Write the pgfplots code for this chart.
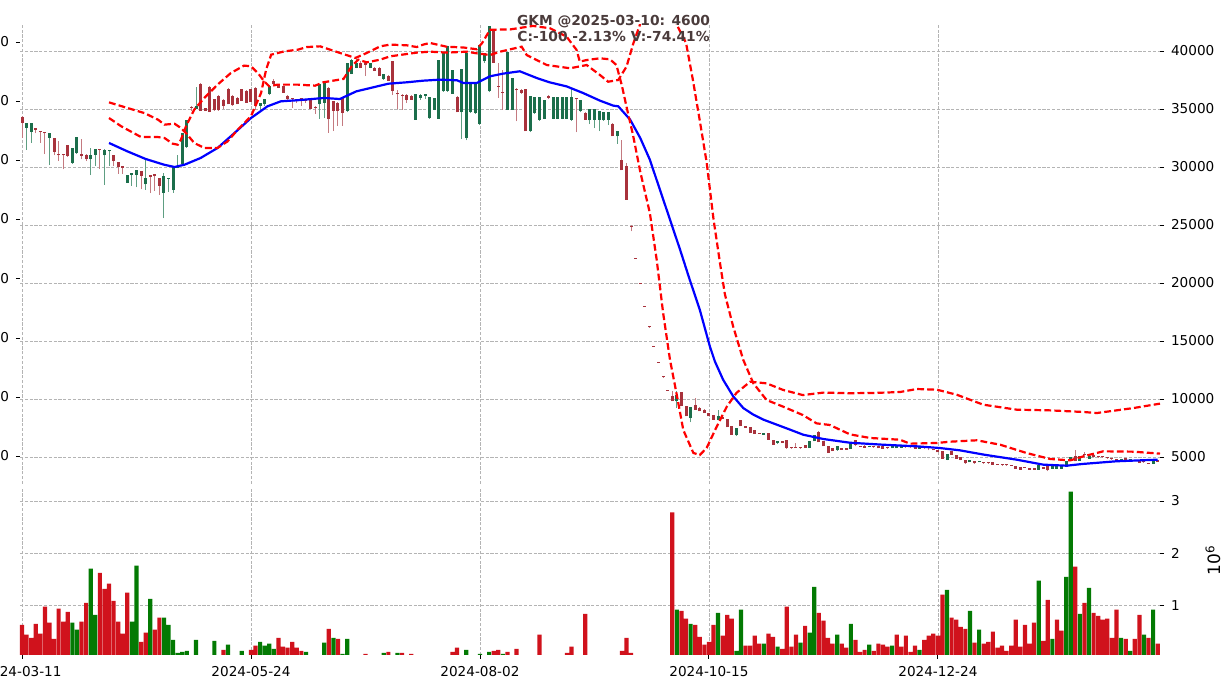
\documentclass[border=0pt]{standalone}
\usepackage{pgfplots}
\pgfplotsset{compat=1.18}
\usepackage{pgfplotstable}
\usepackage{fontspec}
\setmainfont{DejaVu Sans}

\definecolor{upbody}{HTML}{1B6E4B}
\definecolor{upwick}{HTML}{5E9E82}
\definecolor{dnbody}{HTML}{A8323C}
\definecolor{dnwick}{HTML}{C47A80}
\definecolor{volred}{HTML}{D0121C}
\definecolor{volgreen}{HTML}{037A03}
\definecolor{titlec}{HTML}{4A3B3B}
\definecolor{gridc}{HTML}{B4B4B4}

% daily candles: index, open, high, low, close
\pgfplotstableread{
i o h l c
0 34300 34400 32500 33800
1 33400 33800 31500 33800
2 33000 33800 32100 33790
3 33400 33400 32900 33200
4 33100 33100 32100 33000
5 33000 33000 31100 32900
6 32500 32950 30150 32950
7 32500 32500 31000 31300
8 31100 32200 30500 31000
9 31100 31150 29800 31000
10 31900 31900 30900 30950
11 30350 31650 30280 31650
12 31200 32550 31150 32550
13 31100 32450 30650 30950
14 31070 31100 30500 30650
15 30650 31600 29300 31050
16 31050 31560 30100 31560
17 31560 31560 29850 31450
18 31000 31520 28450 31500
19 31350 31500 30100 31500
20 31000 31000 30080 30500
21 30400 30400 29400 30000
22 30050 30060 29400 29950
23 28650 29340 28600 29340
24 29300 29450 28400 29450
25 29350 29780 28250 29780
26 29650 29650 28080 29200
27 28500 30650 28050 29050
28 29250 29260 27750 29180
29 29400 29400 27950 29200
30 29050 29050 27620 28400
31 27760 29500 25600 29200
32 28950 29050 27850 29000
33 28000 30060 27800 30060
34 29950 31060 29900 30060
35 30300 32950 30280 32950
36 31700 34080 31640 34080
37 35200 35250 34820 35100
38 34960 36890 34960 35300
39 37120 37200 34820 34820
40 35050 35100 34800 34820
41 36920 36950 34700 34730
42 35820 35900 34850 34870
43 36110 36200 34850 34870
44 35800 35820 35000 35300
45 36750 36800 35390 35390
46 36110 36200 35300 35310
47 35970 36000 35390 35390
48 36690 36750 35680 35680
49 36540 36600 35540 35540
50 36690 36700 35590 35590
51 36830 36900 34900 35300
52 35250 35540 34900 35540
53 35400 35820 35300 35820
54 36260 37000 36200 36980
55 37410 37550 37000 37120
56 37120 37150 36800 36830
57 36980 37000 36400 36400
58 36110 36200 35800 35820
59 35880 35900 35100 35820
60 35820 35850 35500 35680
61 35880 35900 35300 35820
62 35820 35850 35500 35680
63 35820 35850 35000 35020
64 35200 35250 34600 35100
65 35390 37120 34150 37120
66 35540 37300 34200 37270
67 36830 36900 32940 34100
68 35680 35700 33090 34820
69 35540 35600 33520 34820
70 36030 36050 33560 34650
71 34850 38980 34700 38980
72 38000 39300 37980 39200
73 38560 39300 38500 38990
74 38990 39100 38500 38560
75 38990 39000 37840 38800
76 38560 38990 38500 38990
77 38560 38600 38270 38270
78 38560 38600 37840 37840
79 37550 37980 37500 37980
80 37840 37900 37410 37410
81 39100 39140 36200 36540
82 36320 36610 35000 36260
83 36230 36250 34940 36150
84 36230 36250 35500 35800
85 36150 36200 35800 35810
86 34080 36320 34080 36320
87 35950 36260 35800 36230
88 36150 36300 35900 36260
89 34200 36030 34140 36030
90 34940 35950 34900 35950
91 34140 39250 34140 39250
92 36520 39830 36500 39830
93 36550 40400 36500 40400
94 36320 38390 36300 38390
95 36030 36100 34700 34710
96 34710 38420 32410 38420
97 32500 39830 32300 39830
98 34710 37240 34650 37240
99 34650 37210 34600 37210
100 33730 40550 33650 40550
101 39110 39830 39000 39830
102 36520 42130 36440 42130
103 41840 41900 38970 38970
104 37000 38970 35950 36900
105 36500 38390 34940 36400
106 34940 39890 34900 39890
107 34940 37670 34900 37670
108 36700 36810 33940 36600
109 36670 36700 36300 36380
110 36720 36750 33070 33070
111 33070 36090 33000 36090
112 34650 36030 34600 36030
113 34080 36030 34000 36030
114 34140 35800 34100 35800
115 36150 36200 35900 35950
116 34140 36030 34100 36030
117 34140 36030 34100 36030
118 34140 36030 34100 36030
119 34140 36030 34100 36030
120 34080 36810 34000 36030
121 35950 35950 32990 35850
122 34800 35800 34700 35800
123 34650 34700 34080 34080
124 34020 35000 33700 35000
125 34080 35000 33350 35000
126 34080 34800 33100 34800
127 34080 34700 34000 34700
128 34080 34700 33600 34700
129 33740 33750 32640 32640
130 32640 33070 32000 33070
131 30630 32350 29710 29710
132 30060 30340 27180 27180
133 24900 25030 24450 24850
134 22150 22150 22100 22100
135 19960 19960 19900 19900
136 18000 18000 17950 17950
137 16220 16220 16170 16170
138 14560 14560 14510 14510
139 13180 13180 13130 13130
140 11920 11920 11870 11870
141 10760 10760 10710 10710
142 10280 10660 9800 9800
143 9800 10660 9220 10370
144 10570 10570 9360 9360
145 9420 9420 8500 8500
146 8360 9300 7980 9300
147 9500 10080 9070 9070
148 9220 9300 8930 8930
149 9070 9100 8790 8790
150 8790 8800 8500 8500
151 8640 8650 8210 8210
152 8210 9080 8200 8500
153 8440 8450 8270 8270
154 8270 8300 7550 7550
155 7700 7700 6920 6920
156 6860 7500 6800 7500
157 8150 8150 7640 7640
158 7640 7650 7500 7500
159 7550 7550 7060 7065
160 7350 7360 6980 6980
161 7070 7100 7000 7010
162 6920 7070 6900 7070
163 7065 7070 6490 6490
164 6490 6500 6060 6060
165 6200 6350 6150 6350
166 6350 6360 6200 6200
167 6490 6490 5700 5770
168 5800 5800 5740 5770
169 5900 6200 5770 5770
170 5800 5800 5750 5770
171 6060 6060 5770 5780
172 5770 6350 5770 6350
173 6350 6920 6350 6920
174 7120 7200 6260 6260
175 6350 6350 5920 5920
176 5920 5920 5340 5340
177 5770 5770 5480 5480
178 5570 5920 5550 5920
179 5770 5780 5630 5640
180 5770 5780 5630 5640
181 5690 6210 5690 6206
182 6490 6490 5920 6060
183 5920 5930 5860 5880
184 5980 6000 5770 5780
185 5860 5920 5850 5910
186 5860 5870 5820 5830
187 5920 5930 5740 5750
188 5920 5930 5690 5700
189 5780 5790 5750 5760
190 5750 5920 5740 5910
191 5750 5980 5740 5970
192 5780 5980 5770 5970
193 5840 5850 5810 5820
194 5840 5850 5810 5820
195 5860 5870 5710 5720
196 5720 5840 5710 5830
197 5780 5790 5760 5770
198 5780 5790 5570 5760
199 5720 5730 5570 5580
200 5630 5640 5400 5400
201 5490 5500 4850 4860
202 4770 5290 4700 5290
203 5490 5500 5200 5200
204 5200 5210 4830 4830
205 5000 5010 4710 4720
206 4770 4780 4430 4440
207 4540 4770 4530 4760
208 4660 4680 4430 4440
209 4540 4680 4530 4680
210 4500 4510 4470 4480
211 4500 4510 4470 4480
212 4540 4550 4340 4340
213 4350 4360 4330 4340
214 4320 4330 4300 4310
215 4290 4300 4270 4280
216 4260 4270 4240 4250
217 4250 4260 3970 3970
218 4140 4150 3910 3910
219 4090 4100 4070 4080
220 4050 4060 3900 3910
221 4050 4060 3880 3880
222 3910 4340 3900 4340
223 4140 4150 3970 3970
224 4200 4210 3760 3850
225 3970 4250 3960 4250
226 3970 4250 3960 4250
227 3970 4340 3960 4340
228 4140 4680 4130 4630
229 4630 5000 4620 4990
230 5110 5570 4620 4630
231 4680 5060 4670 5060
232 5200 5400 4900 5190
233 4830 5290 4820 5110
234 5200 5210 5000 5000
235 5000 5010 4990 4995
236 4980 4990 4960 4970
237 4920 4930 4900 4910
238 4860 4870 4850 4850
239 4860 4870 4680 4690
240 4760 4780 4750 4770
241 4910 4920 4700 4710
242 4700 4720 4690 4710
243 4690 4700 4670 4680
244 4630 4640 4480 4480
245 4550 4560 4530 4540
246 4480 4490 4390 4400
247 4400 4720 4390 4700
248 4700 4700 4580 4600
}\candles

% volume in millions, g=1 green bar
\pgfplotstableread{
i v g
0 0.62 0
1 0.43 0
2 0.37 0
3 0.64 0
4 0.45 0
5 0.97 0
6 0.66 0
7 0.35 0
8 0.93 0
9 0.68 0
10 0.87 0
11 0.66 1
12 0.53 1
13 0.68 0
14 1.04 0
15 1.70 1
16 0.81 1
17 1.62 0
18 1.31 0
19 1.41 0
20 1.08 0
21 0.68 0
22 0.45 0
23 1.24 0
24 0.68 1
25 1.76 1
26 0.29 0
27 0.47 0
28 1.12 1
29 0.53 0
30 0.76 0
31 0.76 1
32 0.62 1
33 0.33 1
34 0.08 1
35 0.10 1
36 0.12 1
38 0.33 1
42 0.31 1
44 0.14 0
45 0.24 1
48 0.12 1
50 0.14 0
51 0.22 0
52 0.29 1
53 0.22 1
54 0.26 1
55 0.16 1
56 0.37 0
57 0.20 0
58 0.18 0
59 0.29 0
60 0.18 0
61 0.12 0
62 0.10 1
66 0.28 1
67 0.54 0
68 0.37 1
69 0.35 0
70 0.06 1
71 0.35 1
75 0.06 0
79 0.08 1
80 0.10 0
82 0.08 1
83 0.08 0
85 0.06 0
94 0.10 0
95 0.18 0
97 0.14 1
100 0.06 1
102 0.10 1
103 0.12 0
104 0.14 0
105 0.06 1
106 0.10 0
108 0.16 0
113 0.43 0
119 0.08 0
120 0.20 0
123 0.83 0
131 0.12 0
132 0.37 0
133 0.08 0
142 2.78 0
143 0.91 1
144 0.89 0
145 0.74 0
146 0.64 1
147 0.62 0
148 0.39 0
149 0.24 0
150 0.29 0
151 0.62 0
152 0.85 1
153 0.41 0
154 0.81 0
155 0.74 0
156 0.12 1
157 0.91 1
158 0.22 0
159 0.22 0
160 0.41 0
161 0.26 0
162 0.26 1
163 0.45 0
164 0.39 0
165 0.20 1
166 0.16 0
167 0.97 0
168 0.20 0
169 0.43 0
170 0.28 1
171 0.60 0
172 0.47 1
173 1.35 1
174 0.85 0
175 0.70 0
176 0.37 0
177 0.26 0
178 0.43 1
179 0.26 0
180 0.18 0
181 0.64 1
182 0.33 0
183 0.10 0
184 0.14 0
185 0.24 1
186 0.12 0
187 0.26 0
188 0.24 0
189 0.20 0
190 0.22 1
191 0.43 0
192 0.20 0
193 0.41 0
194 0.10 0
195 0.22 0
196 0.14 1
197 0.33 0
198 0.41 0
199 0.45 0
200 0.41 0
201 1.20 0
202 1.29 1
203 0.76 0
204 0.72 0
205 0.58 0
206 0.54 0
207 0.89 1
208 0.28 0
209 0.53 1
210 0.26 0
211 0.29 0
212 0.49 0
213 0.18 0
214 0.22 0
215 0.12 0
216 0.22 0
217 0.72 0
218 0.20 0
219 0.62 0
220 0.26 0
221 0.66 0
222 1.47 1
223 0.31 0
224 1.10 0
225 0.35 1
226 0.72 0
227 0.51 0
228 1.54 1
229 3.18 1
230 1.74 0
231 0.83 1
232 1.04 0
233 1.33 1
234 0.85 0
235 0.79 0
236 0.72 0
237 0.74 0
238 0.37 0
239 0.91 0
240 0.37 1
241 0.35 0
242 0.12 1
243 0.35 0
244 0.81 0
245 0.43 1
246 0.37 0
247 0.91 1
248 0.26 0
}\vol

\begin{document}
\begin{tikzpicture}
\pgfplotsset{
  every axis/.append style={
    scale only axis, width=570pt, xmin=-0.44, xmax=248.5,
    axis line style={draw=none},
    tick label style={font=\fontsize{6.8}{8}\selectfont},
    scaled ticks=false,
    /pgf/number format/assume math mode=true,
    /pgf/number format/1000 sep={},
    major tick length=2pt, tick align=outside,
    tick style={black, line width=0.45pt},
    grid style={gridc, line width=0.35pt, dash pattern=on 1.6pt off 0.8pt},
  },
  wick/.style={draw=none, mark=none,
    error bars/y dir=plus, error bars/y explicit, error bars/error mark=none,
    error bars/error bar style={draw=#1, solid, line width=0.5pt}},
  body/.style={draw=none, mark=none,
    error bars/y dir=plus, error bars/y explicit, error bars/error mark=none,
    error bars/error bar style={draw=#1, solid, line width=1.5pt}},
}

% price panel
\begin{axis}[
  at={(10pt,103pt)}, anchor=south west, height=229.5pt,
  ymin=2673, ymax=42241,
  xtick={0,50,100,150,200}, xticklabels={}, xtick style={draw=none},
  ytick={5000,10000,...,40000}, ytick pos=right, yticklabel pos=right,
  xmajorgrids, ymajorgrids,
]
\addplot[wick=upwick, restrict expr to domain={\thisrow{c}-\thisrow{o}}{0:100000}]
  table[x=i, y=l, y error plus expr=\thisrow{h}-\thisrow{l}] {\candles};
\addplot[wick=dnwick, restrict expr to domain={\thisrow{c}-\thisrow{o}}{-100000:-0.5}]
  table[x=i, y=l, y error plus expr=\thisrow{h}-\thisrow{l}] {\candles};
\addplot[body=upbody, restrict expr to domain={\thisrow{c}-\thisrow{o}}{0:100000}]
  table[x=i, y expr={min(\thisrow{o},\thisrow{c})},
        y error plus expr={max(abs(\thisrow{c}-\thisrow{o}),90)}] {\candles};
\addplot[body=dnbody, restrict expr to domain={\thisrow{c}-\thisrow{o}}{-100000:-0.5}]
  table[x=i, y expr={min(\thisrow{o},\thisrow{c})},
        y error plus expr={max(abs(\thisrow{c}-\thisrow{o}),90)}] {\candles};

% moving average
\addplot[blue, line width=1.1pt] coordinates {
(19,32070) (23,31350) (27,30690) (31,30200) (33.3,30000) (35.5,30200)
(39,30775) (42.7,31640) (46.4,32930) (50,34220) (53.6,35230) (56.5,35660)
(60,35750) (66,35950) (69.4,35860) (73,36520) (80,37180) (84,37300)
(87.6,37440) (91.3,37530) (95,37470) (96.4,37240) (99.3,37240) (102.2,37820)
(105.1,38050) (108.7,38250) (112.4,37670) (115.2,37300) (118.9,36950)
(122.5,36380) (126.2,35720) (129.1,35290) (130.2,35230) (132.8,34080)
(135,32500) (137.1,30630) (139.3,28040) (141.5,25460) (143.7,22870)
(145.8,20290) (148,17700) (150.2,14540) (151.3,13240) (153.1,11660)
(155.3,10230) (157.5,9220) (159.7,8650) (161.9,8220) (164.8,7790)
(167.7,7360) (170.6,6920) (175,6550) (180.8,6230) (188,6060) (195.4,5920)
(200.4,5775) (204.8,5575) (210.1,5200) (217.2,4770) (223,4340)
(228.1,4250) (231.6,4400) (238.9,4630) (248,4770)
};

% band 1
\addplot[red, line width=1.1pt, dash pattern=on 3.4pt off 1.6pt] coordinates {
(19,35570) (23,35090) (26.7,34650) (29.7,34080) (31.1,33650) (33.3,33730)
(34.7,33360) (35.8,32930) (37.6,32070) (39.8,31640) (42.7,31640) (44.9,32210)
(47.1,33220) (50,34370) (52.2,36380) (53.3,38390) (54.4,39680) (57.3,39970)
(60.2,40110) (62.2,40340) (65.1,40400) (67.3,40110) (70.6,39680) (72.8,39400)
(75.3,39830) (78.2,40400) (80.4,40550) (84,40490) (86.2,40340) (87.6,40550)
(89.1,40690) (92.7,40370) (96.4,40300) (99.3,40150) (100.5,40700)
(102.2,41830) (106.6,41860) (111.6,42160) (115.3,41960) (118.9,41240)
(121.1,40090) (121.8,39080) (123.3,39220) (126.2,39370) (128.4,39280)
(129.8,38790) (131,37000) (132,35200) (133.4,32800) (135,29600)
(137.1,26030) (138.6,21980) (140,17410) (141.5,13370) (142.9,10520)
(144.4,7330) (146.6,5350) (148,5170) (149.5,5780) (151.7,7620) (153.9,9340)
(156,10520) (159,11490) (162.6,11350) (166.2,10780) (170.5,10340)
(175,10550) (180.8,10500) (186,10520) (191.7,10600) (195.4,10860)
(199.8,10800) (204.1,10370) (209.9,9510) (217.2,9080) (224.5,9020)
(231.8,8880) (234.7,8790) (242.7,9220) (248.5,9600)
};

% band 2
\addplot[red, line width=1.1pt, dash pattern=on 3.4pt off 1.6pt] coordinates {
(19,34220) (21.7,33500) (26,32580) (29.7,32580) (31.1,32500) (32.9,32010)
(34,31920) (34.7,32350) (35.8,33500) (37.6,34940) (39.8,35950) (42.7,37100)
(45.6,38100) (48.5,38740) (50,38680) (51.5,38100) (52.9,37380) (54,36950)
(55.8,37100) (60.2,37100) (64,37010) (65.8,37300) (70.2,37590) (72,38680)
(73.4,39250) (75.3,39020) (78.2,39250) (80.4,39540) (82.5,39655)
(86.2,39860) (89.1,39940) (92.7,39860) (97.1,39940) (99.3,39800)
(102.2,39650) (104.4,39940) (109.1,40370) (110.2,39650) (114.6,38790)
(119.7,38510) (123.3,38790) (126.2,37930) (128,37350) (130.2,37500)
(132,38650) (133.5,40660) (134.9,42240) (136.5,44300) (139,45500)
(141,44800) (143,42240) (145,40700) (146.5,37500) (148,34000)
(149.5,30400) (151,25500) (152.5,21500) (153.5,19000) (155.3,16240)
(157.5,13370) (159.7,11350) (162.6,9910) (166.2,9340) (170.5,8620)
(173.5,7900) (176.4,7760) (180.8,6950) (185.2,6640) (191.7,6490)
(193.9,6150) (199.8,6210) (202.7,6320) (208.5,6440) (213.6,6060)
(219.4,5340) (224.5,4830) (228.9,4710) (231.8,5060) (236.1,5490)
(242.7,5460) (248.5,5290)
};
\end{axis}

% left-hand scale of the price panel
\begin{axis}[
  at={(10pt,103pt)}, anchor=south west, height=229.5pt,
  ymin=2673, ymax=42241,
  xtick=\empty,
  ytick={5086,10175,15260,20350,25520,30604,35690,40776},
  yticklabels={5000,10000,15000,20000,25000,30000,35000,40000},
  ytick pos=left, yticklabel pos=left,
]
\end{axis}

% volume panel
\begin{axis}[
  at={(10pt,17.5pt)}, anchor=south west, height=83.5pt,
  ymin=0.04, ymax=3.25,
  xtick={0,50,100,150,200},
  xticklabels={2024-03-11,2024-05-24,2024-08-02,2024-10-15,2024-12-24},
  xtick pos=left, xticklabel pos=left,
  ytick={1,2,3}, ytick pos=right, yticklabel pos=right,
  xmajorgrids, ymajorgrids,
]
\addplot[ybar, bar width=2.1pt, bar shift=0pt, fill=volred, draw=none,
  restrict expr to domain={\thisrow{g}}{-0.5:0.5}] table[x=i, y=v] {\vol};
\addplot[ybar, bar width=2.1pt, bar shift=0pt, fill=volgreen, draw=none,
  restrict expr to domain={\thisrow{g}}{0.5:1.5}] table[x=i, y=v] {\vol};
\end{axis}

\node[rotate=90, font=\fontsize{8.5}{10}\selectfont] at (606.5pt,65pt) {10\textsuperscript{6}};
\node[align=center, text=titlec, font=\bfseries\fontsize{6.9}{8}\selectfont] at (306.75pt,331pt)
  {GKM @2025-03-10: 4600\\C:-100 -2.13\% V:-74.41\%};

\pgfresetboundingbox
\path[use as bounding box] (0,0) rectangle (613pt,345pt);
\end{tikzpicture}
\end{document}
